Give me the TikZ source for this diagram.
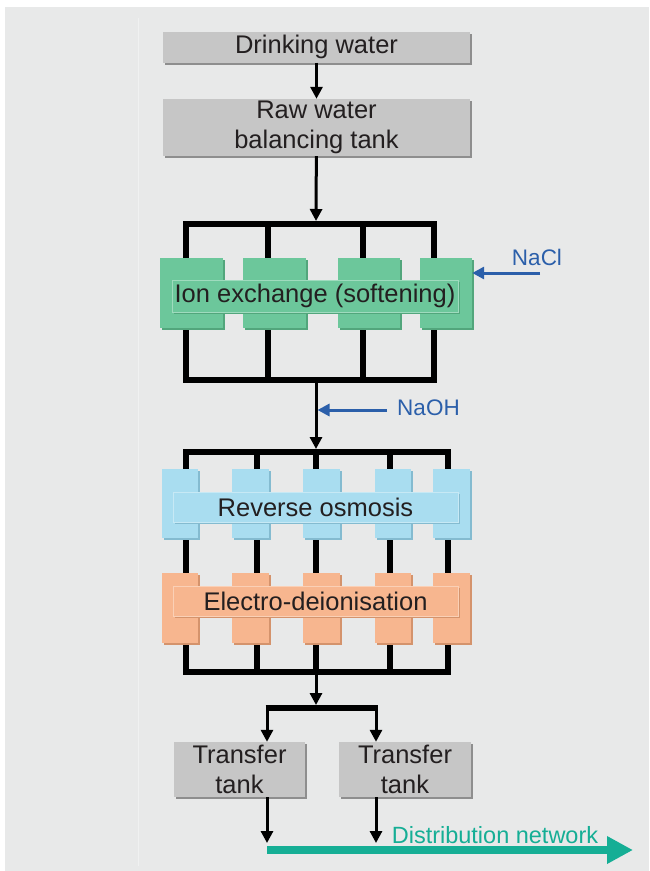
\documentclass[tikz,border=0pt]{standalone}
\usepackage{fontspec}
\setmainfont{Liberation Sans}
\usetikzlibrary{arrows.meta,shadows}
\definecolor{panel}{HTML}{E8E9E9}
\definecolor{inktext}{HTML}{231F20}
\definecolor{tankgray}{HTML}{C6C6C6}
\definecolor{tankshade}{HTML}{8E8E8E}
\definecolor{ixgreen}{HTML}{6CC79B}
\definecolor{ixshade}{HTML}{52A67C}
\definecolor{roblue}{HTML}{A9DDF0}
\definecolor{roshade}{HTML}{84BBD0}
\definecolor{edorange}{HTML}{F7B68F}
\definecolor{edshade}{HTML}{D4936C}
\definecolor{dosing}{HTML}{2B5FAA}
\definecolor{netteal}{HTML}{15AE95}
\tikzset{
  tank/.style={fill=tankgray, text=inktext, align=center, inner sep=0pt,
    minimum width=307pt, minimum height=31pt,
    drop shadow={shadow xshift=2pt, shadow yshift=-2pt, fill=tankshade, opacity=1}},
  block/.style={fill=#1, inner sep=0pt, minimum height=70pt},
  ixblock/.style={block=ixgreen,
    drop shadow={shadow xshift=2pt, shadow yshift=-2pt, fill=ixshade, opacity=1}},
  roblock/.style={block=roblue, minimum height=69pt,
    drop shadow={shadow xshift=2pt, shadow yshift=-2pt, fill=roshade, opacity=1}},
  edblock/.style={block=edorange,
    drop shadow={shadow xshift=2pt, shadow yshift=-2pt, fill=edshade, opacity=1}},
  stagelabel/.style={fill=#1, draw=white!35!#1, line width=1pt, text=inktext,
    inner sep=0pt, minimum width=285pt, minimum height=30pt},
  pipe/.style={line width=6pt},
  feed/.style={line width=3pt, -{Triangle[width=12pt,length=12pt]}},
  dose/.style={line width=3pt, dosing, -{Triangle[width=12pt,length=12pt]}},
  dosetext/.style={text=dosing, font=\fontsize{22.5}{27}\selectfont, inner sep=0pt}
}
\begin{document}
\begin{tikzpicture}[x=1pt, y=-1pt, font=\fontsize{25.5}{30}\selectfont]
\useasboundingbox (0,0) rectangle (649,871);
\fill[white] (0,0) rectangle (649,871);
\fill[panel] (5,7) rectangle (649,871);
\draw[white!35!panel, line width=1pt] (138,18) -- (138,866);

\node[tank] (drink) at (316.5,47) {Drinking water};
\node[tank, minimum height=57pt] (raw) at (316.5,127.5) {Raw water\\balancing tank};
\draw[feed] (drink) -- (raw);

\coordinate (ixin) at (316,224);
\coordinate (ixout) at (316,380);
\draw[pipe] (186,224) rectangle (434,380);
\draw[pipe] (268,224) -- (268,380) (363,224) -- (363,380);
\draw[feed, shorten >=3pt] (raw) -- (ixin);
\foreach \cx/\w [count=\i] in {191.5/63, 274.5/63, 369/62, 446/52}
  \node[ixblock, minimum width=\w pt] (ix\i) at (\cx,293) {};
\node[stagelabel=ixgreen, minimum width=286pt, minimum height=32pt,
  drop shadow={shadow xshift=2pt, shadow yshift=-2pt, fill=ixshade, opacity=1}]
  (ixlab) at (315,296) {Ion exchange (softening)};

\node[dosetext] (nacl) at (537,257) {NaCl};
\coordinate (naclin) at (540,273);
\draw[dose] (naclin) -- (ix4.east |- naclin);

\coordinate (roin) at (316,452);
\coordinate (edout) at (316,672);
\draw[feed, shorten <=3pt, shorten >=3pt] (ixout) -- (roin);
\node[dosetext] (naoh) at (428.5,407.5) {NaOH};
\coordinate (naohin) at (387,410);
\draw[dose] (naohin) -- (317.5,410);

\draw[pipe] (186,452) rectangle (448,672);
\foreach \x in {257,316,390}
  \draw[pipe] (\x,452) -- (\x,672);
\foreach \cx/\w [count=\i] in {180/36, 250.5/37, 321.5/37, 393/36, 451.5/37} {
  \node[roblock, minimum width=\w pt] (ro\i) at (\cx,503.5) {};
  \node[edblock, minimum width=\w pt] (ed\i) at (\cx,608) {};
}
\node[stagelabel=roblue,
  drop shadow={shadow xshift=2pt, shadow yshift=-2pt, fill=roshade, opacity=1}]
  (rolab) at (315.5,507) {Reverse osmosis};
\node[stagelabel=edorange,
  drop shadow={shadow xshift=2pt, shadow yshift=-2pt, fill=edshade, opacity=1}]
  (edlab) at (315.5,601) {Electro-deionisation};

\coordinate (split) at (316,708);
\coordinate (splitL) at (267,708);
\coordinate (splitR) at (376,708);
\draw[feed, shorten <=3pt, shorten >=3pt] (edout) -- (split);
\draw[pipe] (265.5,708) -- (377.5,708);

\node[tank, minimum width=131pt, minimum height=55pt] (tt1) at (239.5,769.5) {Transfer\\tank};
\node[tank, minimum width=132pt, minimum height=55pt] (tt2) at (405,769.5) {Transfer\\tank};
\draw[feed] (splitL) -- (splitL |- tt1.north);
\draw[feed] (splitR) -- (splitR |- tt2.north);

\coordinate (net1) at (267,850);
\coordinate (net2) at (376,850);
\coordinate (netend) at (633,850);
\draw[line width=8pt, netteal, -{Triangle[width=26pt,length=26pt]}] (net1) -- (netend);
\draw[feed, shorten >=7pt] (tt1.south -| net1) -- (net1);
\draw[feed, shorten >=7pt] (tt2.south -| net2) -- (net2);
\node[text=netteal, font=\fontsize{23.5}{28}\selectfont, inner sep=0pt] (netlab) at (495,835) {Distribution network};
\end{tikzpicture}
\end{document}
